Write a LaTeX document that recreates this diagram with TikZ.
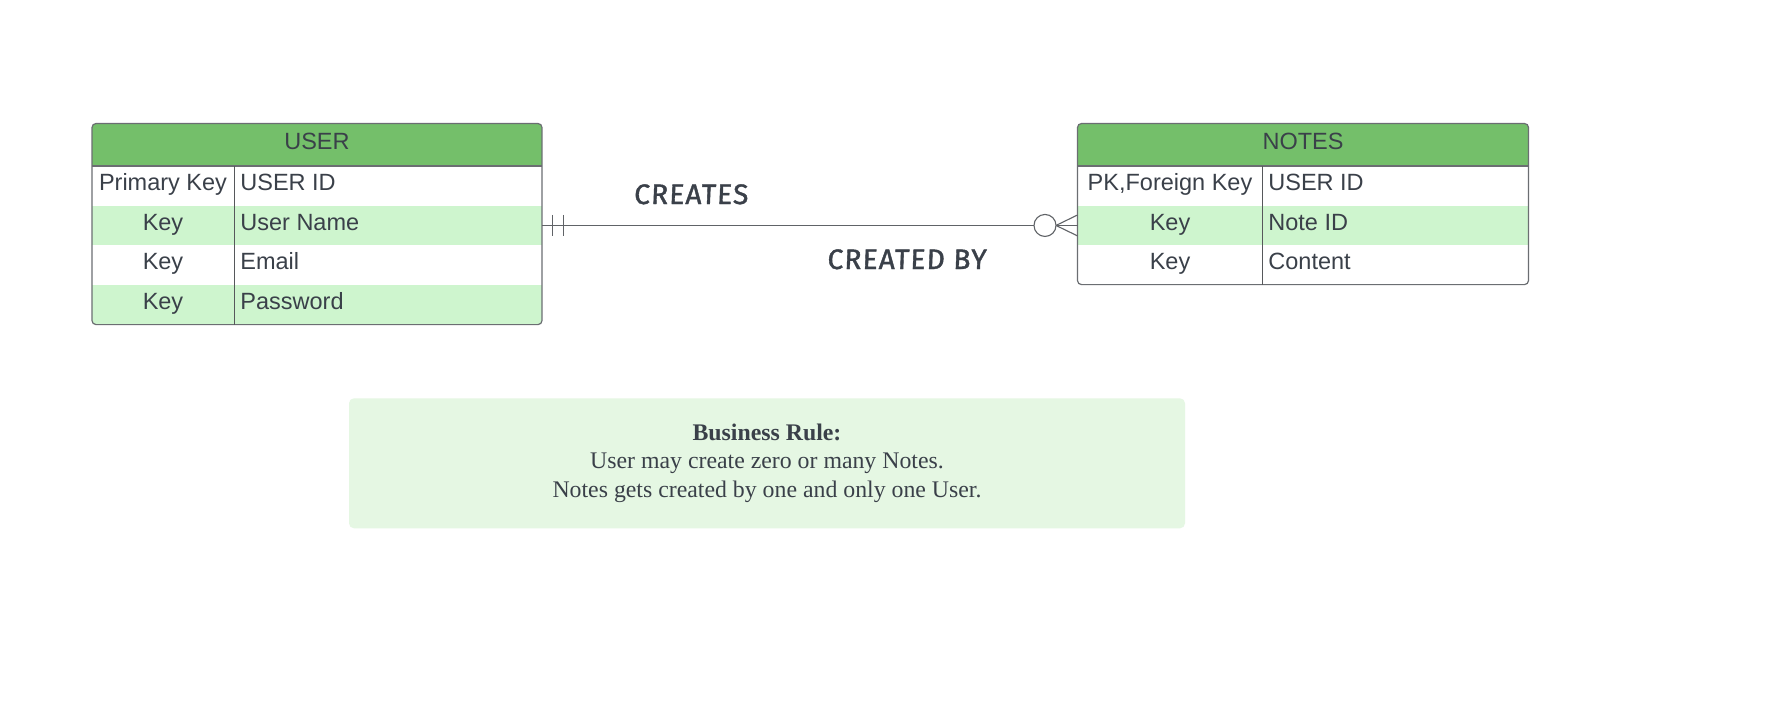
\documentclass[tikz,border=0pt]{standalone}
\usepackage{fontspec}
\setmainfont{Liberation Sans}
\newfontfamily\rulefont{Liberation Serif}
\newfontfamily\hand[FakeSlant=0.04,FakeBold=1.4,LetterSpace=4]{Fira Sans}
\definecolor{hdr}{HTML}{74BF6A}
\definecolor{rowg}{HTML}{CEF5CE}
\definecolor{ink}{HTML}{3A4049}
\definecolor{edge}{HTML}{6B6E72}
\definecolor{rulebg}{HTML}{E5F7E3}
\begin{document}
\begin{tikzpicture}[x=0.5pt,y=-0.5pt,
  cellbox/.style={inner sep=0pt, outer sep=0pt, draw=none, minimum height=19.825pt},
  hdrbox/.style={inner sep=0pt, outer sep=0pt, fill=hdr, minimum height=21.25pt},
  tabtxt/.style={inner sep=0pt, anchor=base, text=ink, font=\fontsize{11.75pt}{14pt}\selectfont},
  lefttxt/.style={tabtxt, anchor=base west},
  tabedge/.style={draw=edge, line width=0.6pt},
  conn/.style={draw=edge!90!black, line width=0.55pt},
  relabel/.style={inner sep=0pt, anchor=base, text=ink, font=\hand\fontsize{14.1pt}{16pt}\selectfont}
]
\useasboundingbox[fill=white] (0,0) rectangle (1778,702);

% ---------------- USER table ----------------
\begin{scope}
\clip[rounded corners=2pt] (92,123.5) rectangle (542,324.6);
\node[hdrbox, minimum width=225pt] (uh) at (317,144.75) {};
\node[cellbox, fill=white, minimum width=225pt] (u1) at (317,185.8) {};
\node[cellbox, fill=rowg, minimum width=225pt] (u2) at (317,225.45) {};
\node[cellbox, fill=white, minimum width=225pt] (u3) at (317,265.15) {};
\node[cellbox, fill=rowg, minimum width=225pt] (u4) at (317,304.8) {};
\end{scope}
\draw[tabedge, rounded corners=2pt] (92,123.5) rectangle (542,324.6);
\draw[tabedge] (uh.south west) -- (uh.south east);
\draw[tabedge, draw=edge!80!black] (234.5,166) -- (234.5,324.6);
\node[tabtxt] (uht) at (317,149.5) {USER};
\node[tabtxt] (u1a) at (163,190.5) {Primary Key};
\node[lefttxt] (u1b) at (240,190.5) {USER ID};
\node[tabtxt] (u2a) at (163,230.1) {Key};
\node[lefttxt] (u2b) at (240,230.1) {User Name};
\node[tabtxt] (u3a) at (163,269.8) {Key};
\node[lefttxt] (u3b) at (240,269.8) {Email};
\node[tabtxt] (u4a) at (163,309.5) {Key};
\node[lefttxt] (u4b) at (240,309.5) {Password};

% ---------------- NOTES table ----------------
\begin{scope}
\clip[rounded corners=2pt] (1077.5,123.5) rectangle (1528.5,284.6);
\node[hdrbox, minimum width=225.5pt] (nh) at (1303,144.75) {};
\node[cellbox, fill=white, minimum width=225.5pt] (n1) at (1303,185.8) {};
\node[cellbox, fill=rowg, minimum width=225.5pt] (n2) at (1303,225.45) {};
\node[cellbox, fill=white, minimum width=225.5pt] (n3) at (1303,265.15) {};
\end{scope}
\draw[tabedge, rounded corners=2pt] (1077.5,123.5) rectangle (1528.5,284.6);
\draw[tabedge] (nh.south west) -- (nh.south east);
\draw[tabedge, draw=edge!80!black] (1262.5,166) -- (1262.5,284.6);
\node[tabtxt] (nht) at (1303,149.5) {NOTES};
\node[tabtxt] (n1a) at (1170,190.5) {PK,Foreign Key};
\node[lefttxt] (n1b) at (1268,190.5) {USER ID};
\node[tabtxt] (n2a) at (1170,230.1) {Key};
\node[lefttxt] (n2b) at (1268,230.1) {Note ID};
\node[tabtxt] (n3a) at (1170,269.8) {Key};
\node[lefttxt] (n3b) at (1268,269.8) {Content};

% ---------------- relationship ----------------
\draw[conn] (u2.east) -- (n2.west);
\draw[conn] (u2.east) ++(10.7,-10.7) -- ++(0,21.4);
\draw[conn] (u2.east) ++(21.7,-10.7) -- ++(0,21.4);
\draw[conn] (n2.west) ++(-21.5,0) -- ++(21.5,-10.45);
\draw[conn] (n2.west) ++(-21.5,0) -- ++(21.5,10.45);
\draw[conn, fill=white] (n2.west) ++(-32.5,0) circle[radius=5.5pt];
\node[relabel] (creates) at (691,204) {CREATES};
\node[relabel] (createdby) at (906.7,269) {CREATED BY};

% ---------------- business rule ----------------
\node[fill=rulebg, rounded corners=2.5pt, minimum width=418pt, minimum height=65pt,
      inner sep=0pt, align=center, text=ink,
      font=\rulefont\fontsize{11.9pt}{14.2pt}\selectfont] (rule) at (767,463.3)
  {\textbf{Business Rule:}\\User may create zero or many Notes.\\Notes gets created by one and only one User.};
\end{tikzpicture}
\end{document}
